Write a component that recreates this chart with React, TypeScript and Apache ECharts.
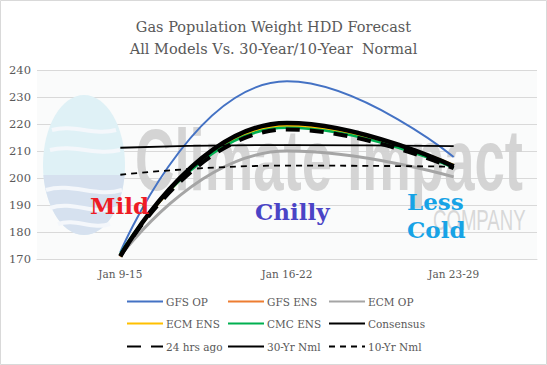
import React, { useEffect, useRef } from "react";
import * as echarts from "echarts";

const categories = ["Jan 9-15", "Jan 16-22", "Jan 23-29"];
const gfsOp = [172.5, 235.8, 207.8];
const gfsEns = [170.8, 219.8, 204.6];
const ecmOp = [171.0, 210.0, 200.4];
const ecmEns = [171.0, 219.3, 204.8];
const cmcEns = [172.0, 218.6, 203.8];
const consensus = [171.0, 220.4, 204.3];
const hrs24Ago = [171.2, 218.0, 203.6];
const nml30 = [211.2, 212.2, 211.8];
const nml10 = [201.2, 204.6, 204.2];
const yTicks = { min: 170, max: 240, interval: 10 };

const SERIF = "DejaVu Serif";

function ellipseLowerPart(cx: number, cy: number, rx: number, ry: number, yCut: number) {
  const pts: number[][] = [];
  const t0 = Math.asin((yCut - cy) / ry);
  const n = 40;
  for (let i = 0; i <= n; i++) {
    const t = t0 + ((Math.PI - 2 * t0) * i) / n;
    pts.push([cx + rx * Math.cos(t), cy + ry * Math.sin(t)]);
  }
  return pts;
}

export default function App() {
  const ref = useRef<HTMLDivElement>(null);
  useEffect(() => {
    document.body.style.margin = "0";
    const chart = echarts.init(ref.current!, undefined, { renderer: "svg" });
    const mk = (name: string, data: number[], color: string, width: number, type: any = "solid", z = 3) => ({
      name,
      type: "line",
      data,
      smooth: 0.5,
      symbol: "none",
      showSymbol: false,
      z,
      lineStyle: { color, width, type },
      itemStyle: { color },
    });
    const series = [
      mk("GFS OP", gfsOp, "#4472c4", 2),
      mk("GFS ENS", gfsEns, "#ed7d31", 2.5),
      mk("ECM OP", ecmOp, "#a5a5a5", 3),
      mk("ECM ENS", ecmEns, "#ffc000", 2.5),
      mk("CMC ENS", cmcEns, "#00b050", 2.5),
      mk("Consensus", consensus, "#000000", 4.5, "solid", 4),
      mk("24 hrs ago", hrs24Ago, "#000000", 4, [14, 10], 5),
      mk("30-Yr Nml", nml30, "#000000", 1.8),
      mk("10-Yr Nml", nml10, "#000000", 1.8, [6, 5]),
    ];
    const legendPos: [string, number, number][] = [
      ["GFS OP", 126, 296],
      ["GFS ENS", 227, 296],
      ["ECM OP", 328, 296],
      ["ECM ENS", 126, 318],
      ["CMC ENS", 227, 318],
      ["Consensus", 328, 318],
      ["24 hrs ago", 126, 341],
      ["30-Yr Nml", 227, 341],
      ["10-Yr Nml", 328, 341],
    ];
    const legends = legendPos.map(([n, x, y]) => ({
      data: [n],
      left: x,
      top: y,
      itemWidth: 36,
      itemHeight: 14,
      itemGap: 2,
      padding: 0,
      selectedMode: false,
      itemStyle: { color: "transparent", borderWidth: 0, opacity: 0 },
      textStyle: { fontFamily: SERIF, fontSize: 10.5, color: "#595959", padding: [0, 0, 0, -2] },
    }));
    const waveWhite = (x1: number, y: number, x2: number, amp: number) => ({
      type: "bezierCurve",
      z: 1,
      shape: { x1, y1: y, x2, y2: y, cpx1: x1 + (x2 - x1) / 3, cpy1: y - amp, cpx2: x1 + (2 * (x2 - x1)) / 3, cpy2: y + amp },
      style: { stroke: "#f4f7fb", lineWidth: 4, fill: "none" },
    });
    chart.setOption({
      animation: false,
      backgroundColor: "#ffffff",
      title: {
        text: "Gas Population Weight HDD Forecast\nAll Models Vs. 30-Year/10-Year  Normal",
        left: "center",
        top: 11,
        textStyle: { fontFamily: SERIF, fontSize: 14.5, fontWeight: "normal", color: "#595959", lineHeight: 22 },
      },
      legend: legends,
      grid: { left: 37, right: 10, top: 70, bottom: 106, show: true, backgroundColor: "#fafbfb", borderWidth: 0, z: 0 },
      xAxis: {
        type: "category",
        data: categories,
        boundaryGap: true,
        axisLine: { lineStyle: { color: "#d9d9d9" } },
        axisTick: { show: false },
        axisLabel: { fontFamily: SERIF, fontSize: 10.5, color: "#595959", margin: 9 },
      },
      yAxis: {
        type: "value",
        min: yTicks.min,
        max: yTicks.max,
        interval: yTicks.interval,
        axisLine: { show: false },
        axisTick: { show: false },
        splitLine: { lineStyle: { color: "#d9d9d9" } },
        axisLabel: { fontFamily: SERIF, fontSize: 11.5, color: "#595959", margin: 6 },
      },
      graphic: [
        { type: "rect", shape: { x: 0.5, y: 0.5, width: 546, height: 364 }, style: { fill: "none", stroke: "#d9d9d9", lineWidth: 1 }, z: 100 },
        { type: "ellipse", shape: { cx: 84, cy: 165, rx: 41, ry: 70 }, style: { fill: "#dff1f6" }, z: 1 },
        { type: "polygon", shape: { points: ellipseLowerPart(84, 165, 41, 70, 175) }, style: { fill: "#d6e1ef" }, z: 1 },
        waveWhite(46, 190, 122, 8),
        waveWhite(50, 208, 118, 8),
        waveWhite(58, 224, 110, 6),
        waveWhite(52, 130, 116, 6),
        waveWhite(50, 150, 120, 6),
        {
          type: "text", x: 135, y: 116, scaleX: 0.62, z: 1,
          style: { text: "Climate Impact", fontFamily: "Liberation Sans", fontWeight: "bold", fontSize: 88, fill: "#d2d2d2", opacity: 0.95 },
        },
        {
          type: "text", x: 433, y: 204, scaleX: 0.62, z: 1,
          style: { text: "COMPANY", fontFamily: "Liberation Sans", fontSize: 30, fill: "#d4d4d4", opacity: 0.9 },
        },
        {
          type: "text", x: 90, y: 194, z: 50,
          style: { text: "Mild", fontFamily: SERIF, fontWeight: "bold", fontSize: 23, fill: "#ee1c25" },
        },
        {
          type: "text", x: 255, y: 200, z: 50,
          style: { text: "Chilly", fontFamily: SERIF, fontWeight: "bold", fontSize: 23, fill: "#4a44c6" },
        },
        {
          type: "text", x: 407, y: 190, z: 50,
          style: { text: "Less", fontFamily: SERIF, fontWeight: "bold", fontSize: 23, fill: "#17a3e6" },
        },
        {
          type: "text", x: 407, y: 218, z: 50,
          style: { text: "Cold", fontFamily: SERIF, fontWeight: "bold", fontSize: 23, fill: "#17a3e6" },
        },
      ],
      series,
    });
    return () => chart.dispose();
  }, []);
  return <div ref={ref} style={{ width: 547, height: 365 }} />;
}
